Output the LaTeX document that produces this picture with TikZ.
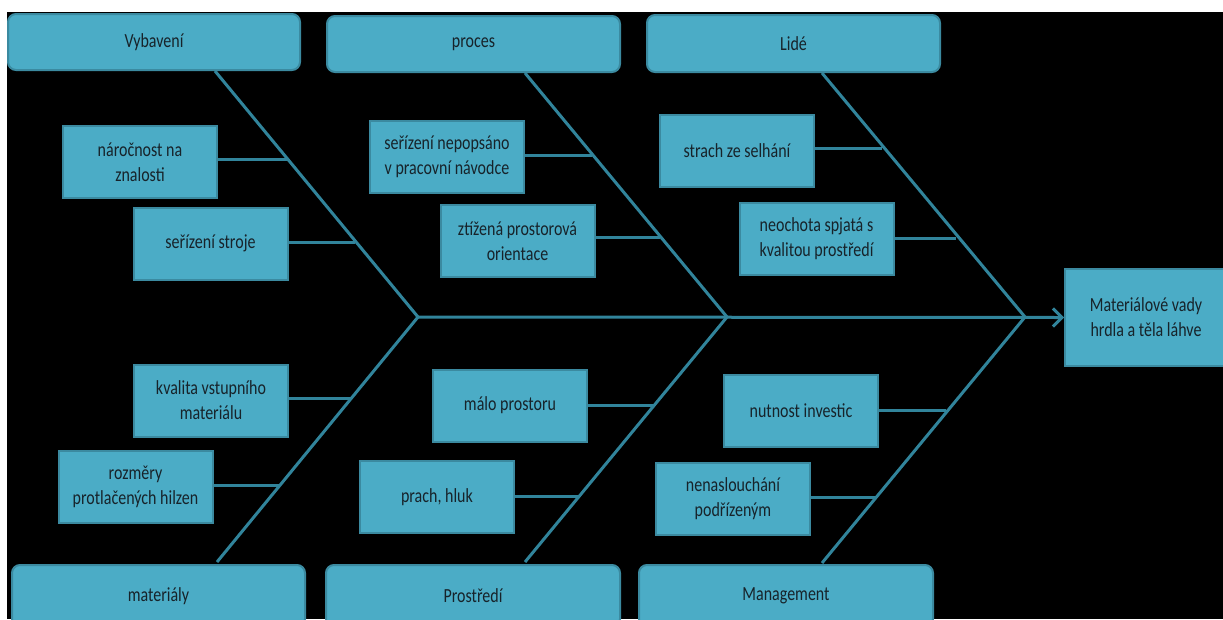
\documentclass[tikz,border=0pt]{standalone}
\usepackage{fontspec}
\setmainfont{Carlito}[FakeStretch=0.8]
\usetikzlibrary{arrows.meta}
\definecolor{boxfill}{HTML}{4BACC6}
\definecolor{boxline}{HTML}{3B8AA0}
\definecolor{bone}{HTML}{31849B}
\definecolor{txt}{HTML}{17232A}
\tikzset{
  cat/.style={draw=boxline, line width=2pt, fill=boxfill, rounded corners=8pt,
    text=txt, font=\fontsize{20}{25}\selectfont, inner sep=0pt},
  sub/.style={draw=boxline, line width=2pt, fill=boxfill, minimum width=154, minimum height=72,
    text=txt, align=center, font=\fontsize{20}{25}\selectfont, inner sep=0pt},
  boneline/.style={draw=bone, line width=3pt},
  twig/.style={draw=bone, line width=3pt},
}
\begin{document}
\begin{tikzpicture}[x=1pt,y=-1pt]
\useasboundingbox (0,0) rectangle (1223,619);
\fill[white] (0,0) rectangle (1223,619);
\fill[black] (7,12) rectangle (1223,619);

% junctions and bone ends
\coordinate (j1) at (418,317);
\coordinate (j2) at (727,317);
\coordinate (j3) at (1025,317);
\coordinate (tV) at (215,71);
\coordinate (tP) at (525,73);
\coordinate (tL) at (822,73);
\coordinate (bM) at (217,562);
\coordinate (bPr) at (525,562);
\coordinate (bMg) at (822,563);

% bones
\draw[boneline] (tV) -- (j1) -- (bM);
\draw[boneline] (tP) -- (j2) -- (bPr);
\draw[boneline] (tL) -- (j3) -- (bMg);

% category boxes
\node[cat, minimum width=292, minimum height=56] (V) at (154,42) {Vybavení};
\node[cat, minimum width=293, minimum height=56] (P) at (473.5,44) {proces};
\node[cat, minimum width=293, minimum height=57] (L) at (793.5,43.5) {Lidé};
\node[cat, minimum width=293, minimum height=62] (M) at (158.5,596) {materiály};
\node[cat, minimum width=294, minimum height=62] (Pr) at (473,596) {Prostředí};
\node[cat, minimum width=294, minimum height=62] (Mg) at (786,596) {Management};

% effect box
\node[sub, minimum width=162, minimum height=97] (E) at (1146,317.5) {Materiálové vady\\hrdla a těla láhve};

% spine
\draw[boneline, -{Straight Barb[length=9pt,width=18pt,line width=3pt]}] (j1) -- (E.west);

% sub causes
\node[sub] (a1) at (140,162) {náročnost na\\znalosti};
\node[sub] (a2) at (210.5,243.5) {seřízení stroje};
\node[sub] (b1) at (447,157) {seřízení nepopsáno\\v pracovní návodce};
\node[sub] (b2) at (517.5,241) {ztížená prostorová\\orientace};
\node[sub] (c1) at (737,150.5) {strach ze selhání};
\node[sub] (c2) at (816.5,239) {neochota spjatá s\\kvalitou prostředí};
\node[sub] (d1) at (211,400.5) {kvalita vstupního\\materiálu};
\node[sub] (d2) at (135.5,486.5) {rozměry\\protlačených hilzen};
\node[sub] (e1) at (510,405.5) {málo prostoru};
\node[sub] (e2) at (437,497) {prach, hluk};
\node[sub] (f1) at (801,410.5) {nutnost investic};
\node[sub] (f2) at (733,499) {nenaslouchání\\podřízeným};

% twig end points on bones
\coordinate (pa1) at (287,159);
\coordinate (pa2) at (355,242);
\coordinate (pb1) at (592,155);
\coordinate (pb2) at (660,237);
\coordinate (pc1) at (882,148);
\coordinate (pc2) at (956,238);
\coordinate (pd1) at (352,398);
\coordinate (pd2) at (280,485);
\coordinate (pe1) at (655,405);
\coordinate (pe2) at (579,496);
\coordinate (pf1) at (946,410);
\coordinate (pf2) at (877,497);

\foreach \n in {a1,a2,b1,b2,c1,c2,d1,d2,e1,e2,f1,f2}
  \draw[twig] (\n.east |- p\n) -- (p\n);
\end{tikzpicture}
\end{document}
